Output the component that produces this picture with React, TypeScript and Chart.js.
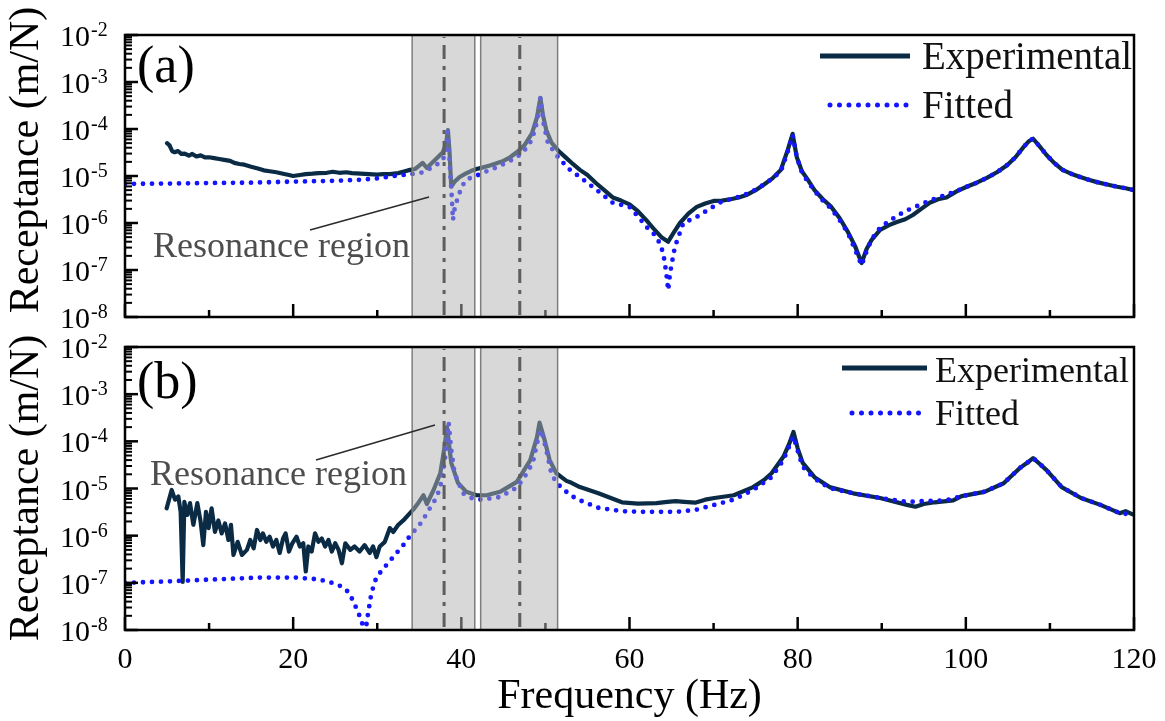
import React, { useEffect, useRef } from "react";
import { Chart, registerables } from "chart.js";

Chart.register(...registerables);

const FONT = "'Liberation Serif', 'Times New Roman', Times, serif";

// ---------- Panel (a) ----------
const expHzA = [5.0,5.3,5.6,5.9,6.3,6.7,7.1,7.6,8.0,8.5,9.0,9.5,10.0,10.6,11.2,11.8,12.5,13.0,13.6,14.2,15.0,15.8,16.5,17.2,18.0,18.8,19.5,20.0,20.8,21.5,22.3,23.0,24.0,24.7,25.5,26.3,27.0,28.0,29.0,30.0,30.7,31.5,32.5,33.3,33.9,34.5,35.0,35.4,35.9,36.5,37.2,37.8,38.2,38.4,38.6,38.8,39.2,39.8,40.5,41.2,41.8,42.5,43.3,44.2,45.0,45.8,46.6,47.5,48.4,49.0,49.4,49.7,50.1,50.7,51.5,52.5,53.3,54.1,55.0,56.0,57.0,58.0,59.0,60.0,61.0,62.0,63.0,63.8,64.6,65.2,66.0,67.0,68.0,69.0,70.0,71.0,72.0,73.0,74.0,75.0,76.0,77.0,78.0,78.8,79.4,79.9,80.5,81.1,82.0,83.0,84.0,85.0,86.0,86.8,87.6,88.2,88.8,89.8,90.8,91.8,92.8,93.7,94.7,95.7,96.7,97.7,98.9,100.1,101.3,102.5,103.7,104.9,105.9,106.8,107.5,108.0,108.8,109.6,110.5,111.5,112.5,113.6,114.6,115.6,116.8,118.0,119.0,120.0];
const expValA = [5.0e-5,4.5e-5,3.4e-5,3.2e-5,3.4e-5,2.95e-5,3.0e-5,2.7e-5,2.95e-5,2.6e-5,2.75e-5,2.5e-5,2.5e-5,2.4e-5,2.3e-5,2.2e-5,2.1e-5,1.9e-5,1.8e-5,1.74e-5,1.58e-5,1.45e-5,1.32e-5,1.26e-5,1.2e-5,1.12e-5,1.05e-5,1.0e-5,1.05e-5,1.1e-5,1.12e-5,1.15e-5,1.17e-5,1.23e-5,1.17e-5,1.2e-5,1.15e-5,1.12e-5,1.1e-5,1.07e-5,1.1e-5,1.1e-5,1.15e-5,1.26e-5,1.35e-5,1.41e-5,1.66e-5,1.9e-5,1.48e-5,1.9e-5,2.5e-5,3.2e-5,5.0e-5,9.5e-5,3.2e-5,5.9e-6,7.6e-6,9.5e-6,1.12e-5,1.29e-5,1.41e-5,1.51e-5,1.66e-5,1.86e-5,2.1e-5,2.5e-5,3.2e-5,4.5e-5,8.1e-5,1.78e-4,4.6e-4,2.0e-4,9.5e-5,5.2e-5,3.5e-5,2.4e-5,1.78e-5,1.35e-5,1.05e-5,7.1e-6,5.0e-6,3.5e-6,3.0e-6,2.5e-6,1.78e-6,1.15e-6,7.1e-7,5.0e-7,4.0e-7,6.0e-7,1.0e-6,1.58e-6,2.2e-6,2.6e-6,2.95e-6,3.0e-6,3.2e-6,3.5e-6,4.0e-6,5.0e-6,6.6e-6,8.9e-6,1.35e-5,3.5e-5,7.9e-5,2.5e-5,1.26e-5,8.9e-6,5.0e-6,3.2e-6,2.2e-6,1.26e-6,6.3e-7,3.3e-7,1.41e-7,2.8e-7,4.4e-7,7.1e-7,8.9e-7,1.05e-6,1.2e-6,1.48e-6,2.0e-6,2.7e-6,3.2e-6,3.5e-6,4.7e-6,5.9e-6,7.2e-6,9.1e-6,1.2e-5,1.7e-5,2.5e-5,4.0e-5,5.5e-5,6.2e-5,4.2e-5,2.8e-5,1.9e-5,1.35e-5,1.12e-5,9.5e-6,8.3e-6,7.4e-6,6.6e-6,5.9e-6,5.5e-6,5.0e-6];
const fitHzA = [0,5,10,15,20,25,28,30,32,34,35.1,36,37,37.8,38.2,38.4,38.55,38.7,38.85,39.0,39.2,39.5,40.0,40.5,41.2,42.0,43.0,44.0,45.3,46.6,47.5,48.4,49.0,49.4,49.8,50.3,51.5,52.8,54.1,56.0,58.0,60.0,61.2,62.0,63.0,63.6,64.0,64.2,64.4,64.6,64.8,65.0,65.4,66.4,68.0,69.9,71.1,72.0,73.0,74.0,75.0,76.0,77.0,78.0,78.8,79.4,79.9,80.5,81.1,82.0,83.0,84.0,85.0,86.0,86.8,87.6,88.2,88.8,89.8,90.8,91.8,92.8,93.7,94.7,95.7,96.7,97.7,98.9,100.1,101.3,102.5,103.7,104.9,105.9,106.8,107.5,108.0,108.8,109.6,110.5,111.5,112.5,113.6,114.6,115.6,116.8,118.0,119.0,120.0];
const fitValA = [6.8e-6,6.9e-6,7.1e-6,7.2e-6,7.6e-6,7.9e-6,8.3e-6,8.9e-6,1.0e-5,1.1e-5,1.15e-5,1.35e-5,1.7e-5,2.2e-5,3.5e-5,8.7e-5,3.2e-5,1.0e-5,4.0e-6,1.15e-6,2.0e-6,3.1e-6,5.6e-6,8.1e-6,9.3e-6,1.05e-5,1.26e-5,1.48e-5,1.9e-5,2.5e-5,3.5e-5,5.9e-5,1.41e-4,4.6e-4,1.26e-4,5.0e-5,2.5e-5,1.41e-5,9.5e-6,5.2e-6,2.7e-6,2.2e-6,1.26e-6,8.3e-7,5.6e-7,3.7e-7,2.3e-7,1.41e-7,7.9e-8,3.7e-8,7.9e-8,1.29e-7,3.1e-7,1.0e-6,1.35e-6,2.2e-6,2.95e-6,3.2e-6,3.6e-6,4.2e-6,5.1e-6,6.6e-6,8.9e-6,1.26e-5,3.2e-5,7.4e-5,2.5e-5,1.2e-5,8.1e-6,4.8e-6,3.0e-6,2.0e-6,1.15e-6,6.0e-7,2.8e-7,1.26e-7,2.5e-7,4.5e-7,7.9e-7,1.07e-6,1.41e-6,1.78e-6,2.1e-6,2.5e-6,3.0e-6,3.5e-6,4.0e-6,4.8e-6,5.9e-6,7.2e-6,9.1e-6,1.2e-5,1.7e-5,2.5e-5,4.0e-5,5.5e-5,6.2e-5,4.2e-5,2.8e-5,1.9e-5,1.35e-5,1.12e-5,9.5e-6,8.3e-6,7.4e-6,6.6e-6,5.9e-6,5.5e-6,5.0e-6];

// ---------- Panel (b) ----------
const expHzB = [4.95,5.55,5.95,6.34,6.62,6.86,7.06,7.41,7.73,8.13,8.6,8.99,9.31,9.63,9.95,10.3,10.7,11.1,11.5,11.9,12.3,12.6,12.9,13.4,13.9,14.5,14.9,15.3,15.7,16.1,16.4,16.8,17.2,17.6,18.0,18.4,18.8,19.1,19.5,19.9,20.4,20.8,21.2,21.5,21.8,22.2,22.6,23.0,23.4,23.8,24.2,24.6,25.0,25.4,25.8,26.2,26.8,27.3,27.9,28.5,29.1,29.5,29.9,30.3,30.9,31.5,31.9,32.5,33.1,33.7,34.3,34.9,35.5,35.9,36.7,37.5,38.0,38.3,38.8,39.6,40.6,41.8,43.0,44.6,46.6,48.2,49.0,49.3,49.9,50.5,51.3,52.5,53.1,54.1,56.3,59.1,61.0,63.2,64.5,65.5,66.5,67.8,69.0,70.1,72.4,74.7,76.0,76.9,78.3,79.0,79.5,80.0,80.6,82.0,83.8,86.6,89.8,93.0,94.0,95.0,96.3,98.5,99.5,102.2,104.5,106.4,107.3,108.0,108.8,109.6,111.4,113.7,116.0,118.3,119.0,120.0];
const expValB = [3.8e-6,9.3e-6,5.8e-6,6.8e-6,3.2e-6,1.05e-7,5.2e-6,2.75e-6,4.9e-6,1.7e-6,4.9e-6,2.0e-6,6.3e-7,3.2e-6,1.45e-6,3.8e-6,1.2e-6,2.1e-6,1.12e-6,1.82e-6,8.1e-7,1.7e-6,3.9e-7,7.4e-7,3.9e-7,5.0e-7,8.1e-7,5.4e-7,1.32e-6,8.1e-7,1.12e-6,7.4e-7,9.5e-7,5.9e-7,8.1e-7,4.3e-7,8.7e-7,1.12e-6,4.6e-7,6.9e-7,9.5e-7,5.9e-7,6.9e-7,1.74e-7,5.9e-7,4.6e-7,1.12e-6,7.4e-7,8.7e-7,5.9e-7,8.1e-7,4.6e-7,6.9e-7,5.0e-7,2.6e-7,6.9e-7,5.0e-7,5.9e-7,4.6e-7,6.3e-7,4.3e-7,5.9e-7,3.5e-7,5.9e-7,7.4e-7,1.45e-6,1.2e-6,1.7e-6,2.1e-6,2.75e-6,3.6e-6,5.0e-6,7.2e-6,4.7e-6,9.3e-6,2.1e-5,7.6e-5,2.0e-4,3.5e-5,1.32e-5,8.5e-6,7.2e-6,7.2e-6,8.5e-6,1.38e-5,4.0e-5,1.23e-4,2.5e-4,1.07e-4,4.0e-5,2.1e-5,1.45e-5,1.32e-5,1.07e-5,7.9e-6,5.1e-6,4.8e-6,4.9e-6,5.2e-6,5.4e-6,5.2e-6,5.0e-6,5.8e-6,6.3e-6,7.2e-6,1.07e-5,1.51e-5,2.1e-5,4.7e-5,8.9e-5,1.58e-4,7.1e-5,3.5e-5,1.74e-5,1.07e-5,7.9e-6,6.3e-6,4.5e-6,4.1e-6,4.7e-6,5.1e-6,5.6e-6,6.9e-6,8.5e-6,1.29e-5,2.7e-5,3.5e-5,4.4e-5,3.3e-5,2.45e-5,1.07e-5,6.3e-6,4.5e-6,3.0e-6,3.3e-6,2.75e-6];
const fitHzB = [0,5,10,16,20.4,22.6,23.8,24.8,25.8,26.6,27.2,27.8,28.2,28.5,28.9,29.3,29.9,31.1,32.3,33.1,33.7,34.5,35.3,35.9,36.5,37.1,37.7,38.2,38.5,38.8,39.2,40.2,41.2,42.4,44.6,46.4,47.3,48.5,49.1,49.5,50.1,50.7,51.3,52.7,53.7,56.3,59.1,61.8,65.5,67.8,70.1,72.4,74.7,76.9,78.3,79.0,79.5,80.0,80.6,82.0,83.8,86.6,89.8,93.0,95.0,97.6,99.5,102.2,104.5,106.4,107.3,108.0,108.8,109.6,111.4,113.7,116.0,118.3,120.0];
const fitValB = [1.0e-7,1.07e-7,1.17e-7,1.29e-7,1.29e-7,1.2e-7,1.1e-7,9.8e-8,8.3e-8,6.3e-8,3.9e-8,2.2e-8,1.41e-8,7.1e-9,2.2e-8,6.0e-8,1.32e-7,2.4e-7,4.3e-7,6.3e-7,8.9e-7,1.32e-6,1.95e-6,3.0e-6,4.5e-6,6.6e-6,1.51e-5,6.6e-5,2.45e-4,6.6e-5,2.1e-5,7.9e-6,6.3e-6,5.8e-6,6.6e-6,1.0e-5,1.51e-5,3.5e-5,1.07e-4,1.74e-4,6.6e-5,2.1e-5,1.32e-5,7.9e-6,6.0e-6,3.9e-6,3.3e-6,3.2e-6,3.2e-6,3.5e-6,4.5e-6,5.8e-6,9.3e-6,1.74e-5,4.0e-5,7.9e-5,1.26e-4,6.3e-5,2.9e-5,1.62e-5,1.02e-5,7.9e-6,6.3e-6,5.2e-6,5.4e-6,5.6e-6,6.9e-6,8.5e-6,1.29e-5,2.7e-5,3.5e-5,4.4e-5,3.3e-5,2.45e-5,1.07e-5,6.3e-6,4.5e-6,3.0e-6,2.8e-6];

// ---------- Axes / annotations ----------
const xMajorTicks = [0, 20, 40, 60, 80, 100, 120];
const xMinorTicks = [10, 30, 50, 70, 90, 110];
const yDecadeExponents = [-8, -7, -6, -5, -4, -3, -2];
const yMinorMultipliers = [2, 3, 4, 5, 6, 7, 8, 9];
const regionStartHz = [34.15, 42.3];
const regionEndHz = [41.6, 51.45];
const modeLineHz = [37.95, 46.95];
const seriesLabels = ["Experimental", "Fitted"];

const EXP_COLOR = "#0b2b45";
const FIT_COLOR = "#1414ff";

type Panel = {
  letter: string;
  letterBase: number;
  exp: { x: number; y: number }[];
  fit: { x: number; y: number }[];
  padTop: number;
  padBottom: number;
  xHeight: number;
  showX: boolean;
  yTitleCenter: number;
  legend: { x0: number; x1: number; y1: number; y2: number; tx: number; tb1: number; tb2: number; font: number };
  note: { tx: number; tb: number; x0: number; y0: number; x1: number; y1: number };
};

function zip(xs: number[], ys: number[]) {
  const n = Math.min(xs.length, ys.length);
  const out: { x: number; y: number }[] = [];
  for (let i = 0; i < n; i++) out.push({ x: xs[i], y: ys[i] });
  return out;
}

const panelA: Panel = {
  letter: "(a)",
  letterBase: 82,
  exp: zip(expHzA, expValA),
  fit: zip(fitHzA, fitValA),
  padTop: 35,
  padBottom: 404,
  xHeight: 0,
  showX: false,
  yTitleCenter: 160,
  legend: { x0: 820, x1: 910, y1: 56, y2: 105, tx: 922, tb1: 69, tb2: 118, font: 39 },
  note: { tx: 153, tb: 257, x0: 310, y0: 230, x1: 429, y1: 197 },
};

const panelB: Panel = {
  letter: "(b)",
  letterBase: 398,
  exp: zip(expHzB, expValB),
  fit: zip(fitHzB, fitValB),
  padTop: 347,
  padBottom: 0,
  xHeight: 91,
  showX: true,
  yTitleCenter: 488,
  legend: { x0: 842, x1: 927, y1: 368, y2: 413, tx: 935, tb1: 382, tb2: 425, font: 36 },
  note: { tx: 150, tb: 485, x0: 316, y0: 460, x1: 435, y1: 425 },
};

function decor(p: Panel) {
  return {
    id: "decor" + p.letter,
    afterDatasetsDraw(chart: any) {
      const ctx: CanvasRenderingContext2D = chart.ctx;
      const ca = chart.chartArea;
      const xs = chart.scales.x;
      const ys = chart.scales.y;
      const seg = (x0: number, y0: number, x1: number, y1: number) => {
        ctx.beginPath();
        ctx.moveTo(x0, y0);
        ctx.lineTo(x1, y1);
        ctx.stroke();
      };
      ctx.save();
      // inward ticks
      ctx.strokeStyle = "#000";
      ctx.lineWidth = 2.5;
      ctx.lineCap = "butt";
      xMajorTicks.forEach((v) => {
        const px = xs.getPixelForValue(v);
        seg(px, ca.bottom, px, ca.bottom - 13);
      });
      xMinorTicks.forEach((v) => {
        const px = xs.getPixelForValue(v);
        seg(px, ca.bottom, px, ca.bottom - 7);
      });
      yDecadeExponents.forEach((e) => {
        const py = ys.getPixelForValue(Math.pow(10, e));
        seg(ca.left, py, ca.left + 13, py);
        if (e < -2) {
          yMinorMultipliers.forEach((m) => {
            const q = ys.getPixelForValue(m * Math.pow(10, e));
            ctx.lineWidth = 2;
            seg(ca.left, q, ca.left + 7, q);
            ctx.lineWidth = 2.5;
          });
        }
      });
      // shaded resonance regions
      regionStartHz.forEach((s, i) => {
        const x0 = xs.getPixelForValue(s);
        const x1 = xs.getPixelForValue(regionEndHz[i]);
        ctx.fillStyle = "rgba(178,178,178,0.5)";
        ctx.fillRect(x0, ca.top, x1 - x0, ca.bottom - ca.top);
        ctx.strokeStyle = "#7d7d7d";
        ctx.lineWidth = 1.5;
        ctx.strokeRect(x0, ca.top, x1 - x0, ca.bottom - ca.top);
      });
      // dash-dot mode lines
      ctx.strokeStyle = "#5e5e5e";
      ctx.lineWidth = 3;
      ctx.setLineDash([14, 7, 4, 7]);
      ctx.lineDashOffset = -8;
      modeLineHz.forEach((v) => {
        const px = xs.getPixelForValue(v);
        seg(px, ca.top + 2, px, ca.bottom);
      });
      ctx.setLineDash([]);
      // frame
      ctx.strokeStyle = "#000";
      ctx.lineWidth = 2.5;
      ctx.strokeRect(ca.left, ca.top, ca.right - ca.left, ca.bottom - ca.top);
      // y tick labels 10^n
      ctx.fillStyle = "#000";
      ctx.textBaseline = "alphabetic";
      yDecadeExponents.forEach((e) => {
        const py = ys.getPixelForValue(Math.pow(10, e));
        ctx.font = `30px ${FONT}`;
        ctx.textAlign = "right";
        ctx.fillText("10", 90, py + 11);
        ctx.font = `20px ${FONT}`;
        ctx.textAlign = "left";
        ctx.fillText(String(e), 91, py + 1);
      });
      // x tick labels
      if (p.showX) {
        ctx.font = `30px ${FONT}`;
        ctx.textAlign = "center";
        xMajorTicks.forEach((v) => {
          ctx.fillText(String(v), xs.getPixelForValue(v), 668);
        });
        ctx.font = `42px ${FONT}`;
        ctx.fillText("Frequency (Hz)", (ca.left + ca.right) / 2, 708);
      }
      // y title
      ctx.save();
      ctx.translate(38, p.yTitleCenter);
      ctx.rotate(-Math.PI / 2);
      ctx.font = `42px ${FONT}`;
      ctx.textAlign = "center";
      ctx.fillText("Receptance (m/N)", 0, 0);
      ctx.restore();
      // panel letter
      ctx.font = `52px ${FONT}`;
      ctx.textAlign = "left";
      ctx.fillText(p.letter, 137, p.letterBase);
      // legend
      const L = p.legend;
      const ds = chart.data.datasets;
      ctx.strokeStyle = ds[1].borderColor;
      ctx.lineWidth = 5;
      ctx.lineCap = "butt";
      seg(L.x0, L.y1, L.x1, L.y1);
      ctx.strokeStyle = ds[0].borderColor;
      ctx.lineCap = "round";
      ctx.setLineDash([0, 9.5]);
      seg(L.x0 + 2, L.y2, L.x1, L.y2);
      ctx.setLineDash([]);
      ctx.lineCap = "butt";
      ctx.fillStyle = "#111";
      ctx.font = `${L.font}px ${FONT}`;
      ctx.textAlign = "left";
      ctx.fillText(ds[1].label, L.tx, L.tb1);
      ctx.fillText(ds[0].label, L.tx, L.tb2);
      // annotation
      const N = p.note;
      ctx.strokeStyle = "#2b2b2b";
      ctx.lineWidth = 1.5;
      seg(N.x0, N.y0, N.x1, N.y1);
      ctx.fillStyle = "#4d4d4d";
      ctx.font = `36px ${FONT}`;
      ctx.fillText("Resonance region", N.tx, N.tb);
      ctx.restore();
    },
  };
}

function buildConfig(p: Panel): any {
  return {
    type: "line",
    data: {
      datasets: [
        {
          label: seriesLabels[1],
          data: p.fit,
          borderColor: FIT_COLOR,
          borderWidth: 4.8,
          borderDash: [0, 9],
          borderCapStyle: "round",
          pointRadius: 0,
          fill: false,
          tension: 0,
          order: 0,
        },
        {
          label: seriesLabels[0],
          data: p.exp,
          borderColor: EXP_COLOR,
          borderWidth: 4.2,
          borderJoinStyle: "round",
          borderCapStyle: "round",
          pointRadius: 0,
          fill: false,
          tension: 0,
          order: 1,
        },
      ],
    },
    options: {
      animation: false,
      responsive: false,
      devicePixelRatio: 1,
      events: [],
      layout: { padding: { top: p.padTop, bottom: p.padBottom, left: 0, right: 31 } },
      plugins: { legend: { display: false }, tooltip: { enabled: false }, title: { display: false } },
      scales: {
        x: {
          type: "linear",
          min: 0,
          max: 120,
          grid: { display: false },
          border: { display: false },
          ticks: { display: false },
          afterFit: (s: any) => {
            s.height = p.xHeight;
          },
        },
        y: {
          type: "logarithmic",
          min: 1e-8,
          max: 1e-2,
          grid: { display: false },
          border: { display: false },
          ticks: { display: false },
          afterFit: (s: any) => {
            s.width = 125;
          },
        },
      },
    },
    plugins: [decor(p)],
  };
}

export default function App() {
  const refA = useRef<HTMLCanvasElement>(null);
  const refB = useRef<HTMLCanvasElement>(null);
  useEffect(() => {
    const a = new Chart(refA.current as HTMLCanvasElement, buildConfig(panelA));
    const b = new Chart(refB.current as HTMLCanvasElement, buildConfig(panelB));
    return () => {
      a.destroy();
      b.destroy();
    };
  }, []);
  return (
    <div style={{ position: "absolute", left: 0, top: 0, width: 1165, height: 721, background: "#fff" }}>
      <canvas ref={refA} width={1165} height={721} style={{ position: "absolute", left: 0, top: 0 }} />
      <canvas ref={refB} width={1165} height={721} style={{ position: "absolute", left: 0, top: 0 }} />
    </div>
  );
}
